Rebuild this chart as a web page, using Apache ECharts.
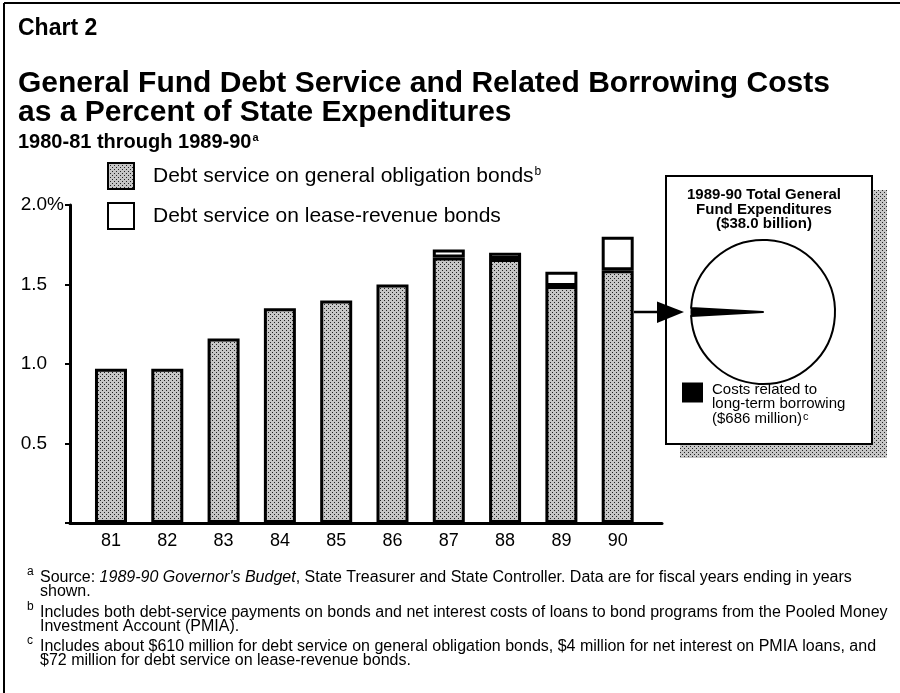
<!DOCTYPE html>
<html>
<head>
<meta charset="utf-8">
<script src="https://cdn.jsdelivr.net/npm/echarts@6/dist/echarts.min.js"></script>
<style>
  html, body { margin: 0; padding: 0; background: #fff; }
  #chart { width: 900px; height: 693px; }
</style>
</head>
<body>
<div id="chart"></div>
<script>
// fiscal years ending in ...
const years = [81, 82, 83, 84, 85, 86, 87, 88, 89, 90];
// percent of state expenditures
const goBonds = [0.97, 0.97, 1.16, 1.35, 1.40, 1.50, 1.67, 1.66, 1.49, 1.59];
const leaseBonds = [0, 0, 0, 0, 0, 0, 0.05, 0.04, 0.09, 0.21];
const yTickLabels = ['', '0.5', '1.0', '1.5', '2.0%'];
// 1989-90 General Fund, $ millions (total $38.0 billion)
const pieNames = ['Costs related to long-term borrowing', 'Other General Fund expenditures'];
const pieValues = [686, 37314];

const FONT = '"Liberation Sans", Arial, Helvetica, sans-serif';
const goName = 'Debt service on general obligation bonds';
const leaseName = 'Debt service on lease-revenue bonds';

// halftone fill like the printed chart
const dots = document.createElement('canvas');
dots.width = 4;
dots.height = 4;
const g = dots.getContext('2d');
g.fillStyle = '#c6c6c6';
g.fillRect(0, 0, 4, 4);
g.fillStyle = '#222';
g.fillRect(0, 0, 1, 1);
g.fillRect(2, 2, 1, 1);
const halftone = { image: dots, repeat: 'repeat' };

const chart = echarts.init(document.getElementById('chart'));

function txt(x, y, text, font, extra) {
  return {
    type: 'text', x: x, y: y, z: 5,
    style: Object.assign({ text: text, font: font, fill: '#000', verticalAlign: 'middle' }, extra || {})
  };
}

const option = {
  animation: false,
  grid: { left: 70, top: 205, width: 592, bottom: 170 },
  xAxis: {
    type: 'value',
    min: 80.272,
    max: 90.787,
    minInterval: 1,
    maxInterval: 1,
    axisLine: { lineStyle: { color: '#000', width: 3 } },
    axisTick: { show: false },
    splitLine: { show: false },
    axisLabel: {
      margin: 9, fontSize: 18, color: '#000', fontFamily: FONT,
      showMinLabel: false, showMaxLabel: false,
      formatter: v => (years.indexOf(Math.round(v)) >= 0 && Math.abs(v - Math.round(v)) < 1e-6) ? String(Math.round(v)) : ''
    }
  },
  yAxis: {
    type: 'value',
    min: 0,
    max: 2,
    interval: 0.5,
    axisLine: { show: true, lineStyle: { color: '#000', width: 3 } },
    axisTick: { show: true, length: 5, lineStyle: { color: '#000', width: 2 } },
    splitLine: { show: false },
    axisLabel: {
      margin: 6, fontSize: 19, color: '#000', fontFamily: FONT,
      formatter: (v, i) => {
        const s = yTickLabels[i] || '';
        return s && s.indexOf('%') < 0 ? s + '{h|%}' : s;
      },
      rich: { h: { color: 'rgba(0,0,0,0)', fontSize: 19, fontFamily: FONT } }
    }
  },
  legend: [
    {
      data: [goName, leaseName],
      orient: 'vertical',
      left: 102,
      top: 157,
      itemWidth: 26,
      itemHeight: 26,
      itemGap: 12,
      icon: 'rect',
      selectedMode: false,
      itemStyle: { borderColor: '#000', borderWidth: 2 },
      textStyle: {
        fontSize: 21, color: '#000', fontFamily: FONT, padding: [0, 0, 0, 14],
        rich: { s: { fontSize: 12, fontFamily: FONT, verticalAlign: 'top', lineHeight: 12, padding: [0, 0, 10, 1] } }
      },
      formatter: name => name === goName ? name + '{s|b}' : name
    },
    {
      data: [pieNames[0]],
      left: 677,
      top: 354,
      itemWidth: 21,
      itemHeight: 20,
      icon: 'rect',
      selectedMode: false,
      itemStyle: { borderWidth: 0 },
      textStyle: {
        fontSize: 15, lineHeight: 14.5, color: '#000', fontFamily: FONT, padding: [23.5, 0, 0, 4],
        rich: { s: { fontSize: 11, fontFamily: FONT, verticalAlign: 'top', lineHeight: 11, padding: [0, 0, 6, 1] } }
      },
      formatter: () => 'Costs related to\nlong-term borrowing\n($686 million){s|c}'
    }
  ],
  graphic: [
    // frame
    { type: 'line', z: 0, shape: { x1: 4, y1: 3, x2: 900, y2: 3 }, style: { stroke: '#000', lineWidth: 2 } },
    { type: 'line', z: 0, shape: { x1: 4, y1: 3, x2: 4, y2: 693 }, style: { stroke: '#000', lineWidth: 2 } },
    // titles
    txt(18, 29, 'Chart 2', 'bold 23px ' + FONT),
    txt(18, 84, 'General Fund Debt Service and Related Borrowing Costs', 'bold 30px ' + FONT),
    txt(18, 113, 'as a Percent of State Expenditures', 'bold 30px ' + FONT),
    txt(18, 142, '1980-81 through 1989-90{s|a}', 'bold 20px ' + FONT, {
      rich: { s: { font: 'bold 11px ' + FONT, verticalAlign: 'top', lineHeight: 11, padding: [0, 0, 8, 1] } }
    }),
    // inset box with shadow
    { type: 'rect', z: 1, shape: { x: 680, y: 190, width: 207, height: 268 }, style: { fill: halftone } },
    { type: 'rect', z: 1, shape: { x: 666, y: 176, width: 206, height: 268 }, style: { fill: '#fff', stroke: '#000', lineWidth: 2 } },
    txt(764, 188, '1989-90 Total General\nFund Expenditures\n($38.0 billion)', 'bold 15px ' + FONT, {
      align: 'center', verticalAlign: 'top', lineHeight: 14.5
    }),
    // arrow from the 1989-90 bar to the pie
    { type: 'line', z: 5, shape: { x1: 634, y1: 312, x2: 660, y2: 312 }, style: { stroke: '#000', lineWidth: 2.5 } },
    { type: 'polygon', z: 5, shape: { points: [[657, 301.5], [684, 312], [657, 323]] }, style: { fill: '#000' } },
    // footnotes
    txt(27, 572, 'a', '12px ' + FONT),
    txt(40, 571, 'Source: {i|1989-90 Governor\'s Budget}, State Treasurer and State Controller. Data are for fiscal years ending in years\nshown.', '16px ' + FONT, {
      verticalAlign: 'top', lineHeight: 14, rich: { i: { font: 'italic 16px ' + FONT, lineHeight: 14 } }
    }),
    txt(27, 607, 'b', '12px ' + FONT),
    txt(40, 606, 'Includes both debt-service payments on bonds and net interest costs of loans to bond programs from the Pooled Money\nInvestment Account (PMIA).', '16px ' + FONT, {
      verticalAlign: 'top', lineHeight: 14
    }),
    txt(27, 641, 'c', '12px ' + FONT),
    txt(40, 640, 'Includes about $610 million for debt service on general obligation bonds, $4 million for net interest on PMIA loans, and\n$72 million for debt service on lease-revenue bonds.', '16px ' + FONT, {
      verticalAlign: 'top', lineHeight: 14
    })
  ],
  series: [
    {
      name: goName,
      type: 'bar',
      stack: 'total',
      barWidth: 32,
      silent: true,
      // value first so the stack runs on the y values
      encode: { x: 1, y: 0 },
      data: years.map((y, i) => [goBonds[i], y]),
      itemStyle: { color: halftone, borderColor: '#000', borderWidth: 3 }
    },
    {
      name: leaseName,
      type: 'bar',
      stack: 'total',
      barWidth: 32,
      silent: true,
      encode: { x: 1, y: 0 },
      // no lease-revenue segment drawn in years with none
      data: years.map((y, i) => [leaseBonds[i] > 0 ? leaseBonds[i] : '-', y]),
      itemStyle: { color: '#fff', borderColor: '#000', borderWidth: 3 }
    },
    {
      name: '1989-90 Total General Fund Expenditures',
      type: 'pie',
      center: [763, 312],
      radius: 72,
      startAngle: 183.25,
      z: 3,
      silent: true,
      label: { show: false },
      labelLine: { show: false },
      data: pieNames.map((n, i) => ({
        name: n,
        value: pieValues[i],
        itemStyle: i === 0
          ? { color: '#000', borderColor: '#000', borderWidth: 1 }
          : { color: '#fff', borderColor: '#000', borderWidth: 2 }
      }))
    }
  ]
};

chart.setOption(option);
window.addEventListener('resize', () => chart.resize());
</script>
</body>
</html>
